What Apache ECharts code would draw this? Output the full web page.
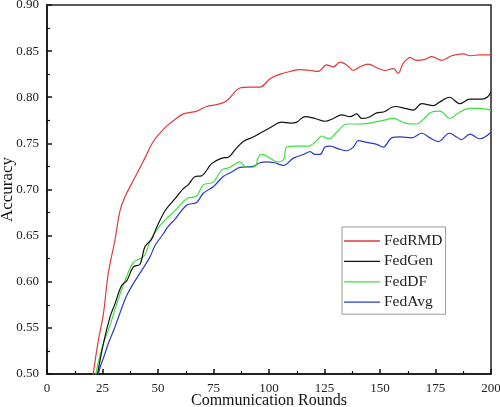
<!DOCTYPE html>
<html>
<head>
<meta charset="utf-8">
<script src="https://cdn.jsdelivr.net/npm/echarts@6/dist/echarts.min.js"></script>
<style>html,body{margin:0;padding:0;background:#fff;}#c{width:500px;height:407px;}</style>
</head>
<body>
<div id="c"></div>
<script>
const seriesNames = ['FedRMD', 'FedGen', 'FedDF', 'FedAvg'];
const xTicks = [0, 25, 50, 75, 100, 125, 150, 175, 200];
const yTicks = [0.50, 0.55, 0.60, 0.65, 0.70, 0.75, 0.80, 0.85, 0.90];

const fedRMD = [
  [20.5,0.495],[23.1,0.536],[25.4,0.565],[27.6,0.609],[30.6,0.645],[32.9,0.677],[35.1,0.692],
  [39.6,0.713],[44.1,0.734],[47.9,0.752],[53.2,0.767],[57.7,0.776],[61.4,0.782],[67.4,0.785],
  [71.9,0.790],[76.4,0.792],[80.9,0.796],[86.9,0.810],[91.4,0.811],[95.9,0.811],[100.5,0.820],
  [105,0.825],[109.5,0.828],[114,0.830],[118.5,0.829],[122.2,0.828],[126,0.835],[129,0.833],
  [132,0.838],[135,0.835],[138,0.829],[141,0.833],[144.7,0.836],[148.5,0.832],[152.3,0.829],
  [156,0.831],[158.2,0.826],[160.5,0.837],[163.5,0.843],[166.5,0.840],[170.3,0.841],[173.3,0.844],
  [177.8,0.840],[182.3,0.845],[187.5,0.847],[190.5,0.845],[195,0.846],[200,0.846]
];
const fedGen = [
  [22.4,0.495],[25.4,0.533],[28.4,0.562],[30.6,0.576],[33.6,0.596],[35.9,0.601],[38.9,0.616],
  [41.9,0.619],[44.1,0.638],[47.1,0.646],[49.4,0.659],[53.2,0.677],[57.7,0.690],[61.4,0.701],
  [63.6,0.705],[66.7,0.714],[69.7,0.715],[74.2,0.728],[78.7,0.734],[81.7,0.735],[84.7,0.743],
  [88.4,0.752],[92.9,0.757],[96.7,0.762],[100.5,0.767],[105.7,0.773],[109.5,0.772],[112.5,0.773],
  [116.2,0.779],[120.7,0.777],[125.2,0.774],[129,0.777],[132.7,0.781],[136.5,0.779],[139.5,0.782],
  [141.7,0.777],[144.7,0.778],[148.5,0.783],[151.5,0.784],[156.8,0.790],[161.3,0.788],[165,0.786],
  [168.8,0.793],[174,0.791],[177,0.795],[181.2,0.800],[186,0.793],[190.5,0.798],[195.8,0.798],
  [198.3,0.800],[200,0.806]
];
const fedDF = [
  [21.6,0.495],[24.6,0.527],[28.4,0.553],[32.1,0.581],[35.9,0.606],[38.9,0.621],[41.9,0.625],
  [44.1,0.629],[46.4,0.644],[49.4,0.656],[53.2,0.667],[57.7,0.677],[62.9,0.690],[67.4,0.693],
  [70.4,0.705],[74.9,0.708],[78.7,0.721],[82.4,0.724],[86.9,0.730],[89.9,0.724],[93.7,0.725],
  [95.2,0.735],[96.7,0.738],[100.5,0.734],[103.5,0.730],[106.5,0.732],[108,0.746],[112.5,0.747],
  [117.8,0.747],[121.5,0.753],[123.7,0.758],[127,0.755],[130.5,0.762],[135,0.771],[139.5,0.771],
  [145.5,0.772],[151.5,0.775],[156,0.777],[161.3,0.772],[166.5,0.771],[169.5,0.776],[173.3,0.784],
  [177,0.785],[181.5,0.777],[185.3,0.783],[190.5,0.788],[195,0.788],[200,0.786]
];
const fedAvg = [
  [22.7,0.495],[23.9,0.507],[26.1,0.522],[27.6,0.533],[30.6,0.551],[33.6,0.571],[35.9,0.585],
  [38.9,0.598],[42.6,0.612],[46.4,0.627],[48.6,0.639],[52.4,0.652],[54.6,0.660],[57.7,0.668],
  [62.9,0.683],[67.4,0.686],[70.4,0.696],[74.9,0.703],[79.4,0.714],[83.2,0.719],[86.9,0.724],
  [92.9,0.725],[95.9,0.729],[98.9,0.730],[102.6,0.729],[106.5,0.726],[111,0.734],[115.5,0.738],
  [118.5,0.741],[120.7,0.738],[123,0.738],[125.2,0.746],[127.5,0.747],[131.3,0.744],[135,0.742],
  [138,0.746],[140.2,0.753],[144,0.751],[148.5,0.749],[151.5,0.746],[155.3,0.756],[159,0.757],
  [164.3,0.756],[168.8,0.761],[172.5,0.756],[176.3,0.752],[181.2,0.761],[184.5,0.757],[186.7,0.754],
  [190.5,0.760],[195,0.755],[200,0.762]
];

const dataSets = [fedRMD, fedGen, fedDF, fedAvg];
const colors = ['#e03a3a', '#111111', '#3ee03e', '#2a3ac8'];
const font = '"Liberation Serif", "Times New Roman", serif';

const chart = echarts.init(document.getElementById('c'), null, {renderer: 'canvas'});
chart.setOption({
  animation: false,
  backgroundColor: '#fff',
  textStyle: {fontFamily: font},
  grid: {left: 47, right: 9, top: 5, bottom: 33, show: true, borderColor: '#222', borderWidth: 1.5,
         containLabel: false, outerBoundsMode: 'none'},
  legend: {
    orient: 'vertical', left: 342, top: 227,
    data: seriesNames,
    icon: 'rect',
    backgroundColor: '#fff', borderColor: '#999', borderWidth: 1,
    padding: [6, 3, 4, 2], itemGap: 4.4, itemWidth: 36, itemHeight: 1.3,
    textStyle: {fontFamily: font, fontSize: 15.5, color: '#222', lineHeight: 15, padding: [0, 0, 0, -1]}
  },
  xAxis: {
    type: 'value', min: 0, max: 200, interval: 25,
    name: 'Communication Rounds', nameLocation: 'middle', nameGap: 19, nameMoveOverlap: false,
    nameTextStyle: {fontFamily: font, fontSize: 16, color: '#111'},
    axisLine: {show: true, lineStyle: {color: '#111', width: 1.5}},
    axisTick: {show: true, inside: true, length: 5, lineStyle: {color: '#111', width: 1.5}},
    minorTick: {show: true, splitNumber: 2, length: 3, lineStyle: {color: '#111', width: 1.2}},
    axisLabel: {fontFamily: font, fontSize: 13, color: '#222', margin: 8,
      formatter: v => xTicks.indexOf(v) >= 0 ? String(v) : ''},
    splitLine: {show: false}
  },
  yAxis: {
    type: 'value', min: 0.5, max: 0.9, interval: 0.05,
    name: 'Accuracy', nameLocation: 'middle', nameGap: 31, nameMoveOverlap: false,
    nameTextStyle: {fontFamily: font, fontSize: 17, color: '#111'},
    axisLine: {show: true, lineStyle: {color: '#111', width: 1.5}},
    axisTick: {show: true, inside: true, length: 5, lineStyle: {color: '#111', width: 1.5}},
    minorTick: {show: true, splitNumber: 2, length: 3, lineStyle: {color: '#111', width: 1.2}},
    axisLabel: {fontFamily: font, fontSize: 13, color: '#222', margin: 8,
      formatter: v => { const t = yTicks.find(y => Math.abs(y - v) < 1e-6); return t !== undefined ? t.toFixed(2) : ''; }},
    splitLine: {show: false}
  },
  series: seriesNames.map((n, i) => ({
    name: n, type: 'line', data: dataSets[i], showSymbol: false, symbol: 'none',
    smooth: 0.35, clip: true,
    lineStyle: {color: colors[i], width: 1.2},
    itemStyle: {color: colors[i]},
    z: 10 - i
  }))
});
</script>
</body>
</html>
